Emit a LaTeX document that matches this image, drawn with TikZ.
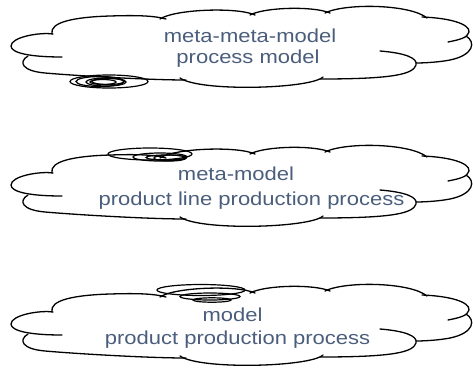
\documentclass[tikz,border=0pt]{standalone}
\usepackage{fontspec}
\usepackage{graphicx}
\newfontfamily\lsans{Liberation Sans}
\definecolor{txt}{RGB}{74,94,124}
\tikzset{
  cloudline/.style={line width=1.3pt, line cap=round, line join=round},
  spiral/.style={line width=1.2pt},
  lbl/.style={anchor=base, inner sep=0pt, text=txt, font=\lsans\fontsize{18.8}{20}\selectfont},
}
\newcommand\hs[1]{\scalebox{1.17}[1]{#1}}
\newcommand\mycloudpath{%
  % top-left lobe
  \draw[cloudline] (52,34) .. controls (49,22) and (75,17) .. (110,16) .. controls (140,15) and (155,16) .. (166,19);
  % leftmost lobe with inner fold
  \draw[cloudline] (53,34) .. controls (40,32) and (11,37) .. (11,46) .. controls (11,53) and (30,57) .. (62,57);
  % lower-left lobe and bottom left
  \draw[cloudline] (28,56) .. controls (18,62) and (22,71) .. (45,73) .. controls (80,76) and (150,80) .. (186,80);
  % top lobes
  \draw[cloudline] (160,19) .. controls (175,9) and (238,7) .. (255,15);
  \draw[cloudline] (250,15) .. controls (265,7) and (314,6) .. (330,13);
  \draw[cloudline] (325,13) .. controls (345,3) and (410,4) .. (427,18);
  % right upper lobe with inner fold
  \draw[cloudline] (422,17) .. controls (450,18) and (470,24) .. (469,32) .. controls (468,38) and (458,40) .. (448,42);
  % right lower lobe
  \draw[cloudline] (466,36) .. controls (476,42) and (474,55) .. (450,60) .. controls (440,62) and (425,63) .. (416,63);
  % bottom-right lobe with inner fold
  \draw[cloudline] (380,51) .. controls (405,53) and (418,58) .. (416,65) .. controls (413,74) and (395,79) .. (320,79);
  % bottom middle lobe
  \draw[cloudline] (323,77) .. controls (310,89) and (200,92) .. (180,78);
}
\begin{document}
\begin{tikzpicture}[x=1pt,y=-1pt]
\useasboundingbox (0,0) rectangle (473,368);
% cloud 1
\begin{scope}
  \mycloudpath
  \draw[spiral] (109,81.5) ellipse [x radius=39, y radius=6.5];
  \draw[spiral] (106,82) ellipse [x radius=20, y radius=4];
  \draw[spiral] (103,82) ellipse [x radius=13, y radius=2.5];
  \draw[spiral] (108,81.5) ellipse [x radius=16, y radius=3];
  \draw[spiral] (100,81.5) ellipse [x radius=24, y radius=5];
\end{scope}
\node[lbl] (t1a) at (250,42.7) {\hs{meta-meta-model}};
\node[lbl] (t1b) at (248,63.3) {\hs{process model}};
% cloud 2
\begin{scope}[shift={(0,139)}]
  \mycloudpath
\end{scope}
\draw[spiral] (150,154) ellipse [x radius=42, y radius=6];
\draw[spiral] (160,157) ellipse [x radius=27, y radius=4];
\draw[spiral] (170,158) ellipse [x radius=16, y radius=3];
\draw[spiral] (166,157.5) ellipse [x radius=20, y radius=2.5];
\node[lbl] (t2a) at (236,180.7) {\hs{meta-model}};
\node[lbl] (t2b) at (251.5,205.7) {\hs{product line production process}};
% cloud 3
\begin{scope}[shift={(0,278)}]
  \mycloudpath
\end{scope}
\draw[spiral] (201,290) ellipse [x radius=44, y radius=5.5];
\draw[spiral] (210,296.5) ellipse [x radius=30, y radius=3.5];
\draw[spiral] (212,300) ellipse [x radius=19, y radius=2.2];
\node[lbl] (t3a) at (232.5,321.7) {\hs{model}};
\node[lbl] (t3b) at (237.5,344.3) {\hs{product production process}};
\end{tikzpicture}
\end{document}
